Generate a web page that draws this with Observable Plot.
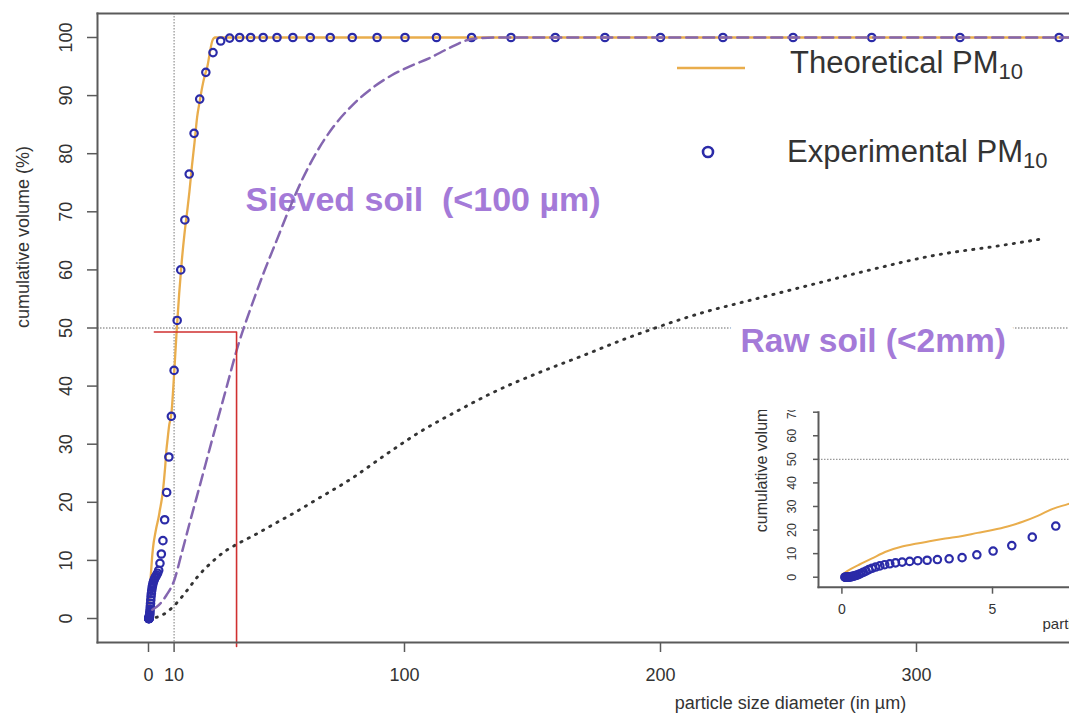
<!DOCTYPE html>
<html><head><meta charset="utf-8">
<script src="https://cdn.jsdelivr.net/npm/d3@7"></script>
<script src="https://cdn.jsdelivr.net/npm/@observablehq/plot@0.6"></script>
<style>
html,body{margin:0;padding:0;background:#fff;}
#wrap{position:relative;width:1069px;height:716px;overflow:hidden;font-family:"Liberation Sans",Arial,sans-serif;}
#wrap svg{display:block;}
#inset{position:absolute;left:748px;top:410px;width:321px;height:230px;overflow:hidden;background:#fff;}
#legend{position:absolute;left:0;top:0;}
text{white-space:pre;}
</style></head><body><div id="wrap"><div id="main"></div><div id="inset"></div></div>
<script>
// Experimental PM10 (blue circles): particle size (µm) and cumulative volume (%)
const expSize = [0.1,0.112,0.126,0.142,0.159,0.178,0.2,0.224,0.252,0.283,0.317,0.356,0.399,0.448,0.502,0.564,0.632,0.71,0.796,0.893,
  1.0,1.12,1.26,1.42,1.59,1.78,2.0,2.25,2.52,2.83,3.17,3.56,3.99,4.48,5.02,5.64,6.32,7.1,7.96,8.93,
  10.0,11.2,12.6,14.2,15.9,17.8,20.0,22.4,25.2,28.2,31.7,35.6,39.9,44.8,50.2,56.4,63.2,71.0,79.6,89.3,
  100.2,112.5,126.2,141.6,158.9,178.3,200.0,224.4,251.8,282.5,317.0,355.7];
const expVol = [0,0,0,0,0,0,0.02,0.05,0.1,0.15,0.25,0.35,0.5,0.7,0.9,1.2,1.6,2.1,2.6,3.2,
  3.8,4.3,4.8,5.3,5.7,6.1,6.4,6.7,7.0,7.2,7.5,7.8,8.3,9.5,11.1,13.4,17.0,21.7,27.8,34.8,
  42.7,51.3,60.0,68.6,76.5,83.5,89.4,94.0,97.4,99.4,99.9,100,100,100,100,100,100,100,100,100,
  100,100,100,100,100,100,100,100,100,100,100,100];
// Theoretical PM10 (orange line)
const theoSize = [0,0.3,0.6,1,1.5,2,2.5,3,3.5,4,4.5,5,5.5,6,6.5,7,7.5,8,9,10,11,12,13,14,15,16,17,18,19,20,21,22,23,24,25,26,360];
const theoVol = [1,3.5,5.5,8,11,13,14.3,15.5,16.5,17.5,18.8,20,21.5,23.5,26,29,31,33,35.5,42,49.5,56,61.5,66,69.7,73.5,78,82,86.3,89,91.5,93.5,95,97.5,99.5,100,100];
// Sieved soil (<100 µm) (purple dashed)
const sievedSize = [1.5,4,7,10,13,16,20,25,30,35,40,45,50,55,60,66,72,80,88,95,103,110,118,126,135,360];
const sievedVol = [1.5,2.3,4,6.5,11.3,16.3,22.8,31,39,47,53.5,59.5,65,70.5,75.5,80.5,84.5,88.5,91.5,93.5,95.2,96.5,98.3,99.7,100,100];
// Raw soil (<2mm) (black dotted)
const rawSize = [3,5,10,15,19,25,30,35,42,50,57,65,79,93,106,121,136,153,170,186,196,208,221,229,255,281,307,333,350];
const rawVol = [0.2,0.5,2.2,4.8,7.1,9.8,11.6,12.9,14.5,16.5,18.2,20.3,24,28.3,32.1,35.8,39.2,42.4,45.3,48.1,49.7,51.5,53.2,54.1,57.0,59.9,62.5,64.2,65.4];
// Red reading guide (D50)
const guideSize = [2.3,34.4,34.4];
const guideVol = [49.3,49.3,-4.8];
// Reference lines
const refSize = [10];
const refVol = [50];
// Ticks
const xTicks = [0,10,100,200,300];
const yTicks = [0,10,20,30,40,50,60,70,80,90,100];
const insetXTicks = [0,5];
const insetYTicks = [0,10,20,30,40,50,60,70];
// Annotations
const annoText = ["Sieved soil  (<100 µm)","Raw soil (<2mm)"];
const annoSize = [37.9,231.3];
const annoVol = [70.2,45.8];
// Legend
const legendLabels = ["Theoretical PM","Experimental PM"];
const legendSub = "10";

const zip = (xs, ys) => xs.map((x, i) => ({x, y: ys[i]}));
const exp = zip(expSize, expVol);
const theo = zip(theoSize, theoVol);
const sieved = zip(sievedSize, sievedVol);
const raw = zip(rawSize, rawVol);
const guide = zip(guideSize, guideVol);
const annos = annoText.map((t, i) => ({t, x: annoSize[i], y: annoVol[i]}));

const FONT = "Liberation Sans, Arial, sans-serif";
const refStyle = {stroke:"#9a9a9a", strokeWidth:1.3, strokeDasharray:"1.5,1.5"};
const orange = "#e9ad4c", blue = "#2b2ba8", purple = "#8466b0", lav = "#a47ad8", axisCol = "#5a5a5a";

const main = Plot.plot({
  width:1069, height:716, marginLeft:97, marginRight:0, marginTop:13, marginBottom:74,
  x:{domain:[-19.92, 359.77]}, y:{domain:[-4.13, 104.13]},
  style:{fontFamily:FONT, color:"#333", background:"transparent", overflow:"visible"},
  marks:[
    Plot.ruleX(refSize, refStyle),
    Plot.ruleY(refVol, refStyle),
    Plot.line(theo, {x:"x", y:"y", stroke:orange, strokeWidth:2.3, curve:"monotone-x"}),
    Plot.dot(exp, {x:"x", y:"y", r:3.7, stroke:blue, strokeWidth:2.2, fill:"none"}),
    Plot.text(annos.slice(0,1), {x:"x", y:"y", text:"t", textAnchor:"start", lineAnchor:"bottom", fontSize:34, fontWeight:"bold", fill:lav}),
    Plot.line(sieved, {x:"x", y:"y", stroke:purple, strokeWidth:2.5, strokeDasharray:"11,6", curve:"monotone-x"}),
    Plot.text(annos.slice(1), {x:"x", y:"y", text:"t", textAnchor:"start", lineAnchor:"bottom", fontSize:33.5, fontWeight:"bold", fill:lav, stroke:"white", strokeWidth:24, paintOrder:"stroke"}),
    Plot.line(raw, {x:"x", y:"y", stroke:"#333", strokeWidth:2.9, strokeDasharray:"1.2,7", strokeLinecap:"round", curve:"monotone-x"}),
    Plot.line(guide, {x:"x", y:"y", stroke:"#d03030", strokeWidth:1.6}),
    Plot.axisX({ticks:xTicks, tickSize:10, tickPadding:16, fontSize:18, label:null, stroke:axisCol, strokeWidth:1.5}),
    Plot.axisY({ticks:yTicks, tickSize:10, tickPadding:16, tickRotate:-90, fontSize:18, label:null, stroke:axisCol, strokeWidth:1.5}),
    Plot.frame({anchor:"top", stroke:axisCol, strokeWidth:2}),
    Plot.frame({anchor:"left", stroke:axisCol, strokeWidth:2}),
    Plot.frame({anchor:"bottom", stroke:axisCol, strokeWidth:2}),
    Plot.text(["cumulative volume (%)"], {frameAnchor:"left", dx:-74, rotate:-90, fontSize:18, fill:"#333"}),
    Plot.text(["particle size diameter (in µm)"], {frameAnchor:"bottom", dx:207, dy:66, fontSize:18, fill:"#333"})
  ]
});
document.getElementById("main").appendChild(main);

const inset = Plot.plot({
  width:321, height:230, marginLeft:70, marginRight:0, marginTop:1.7, marginBottom:53.3,
  x:{domain:[-0.777, 7.556]}, y:{domain:[-4.24, 70]},
  style:{fontFamily:FONT, color:"#333", background:"white"},
  marks:[
    Plot.ruleY(refVol, refStyle),
    Plot.line(theo, {x:"x", y:"y", stroke:orange, strokeWidth:2, curve:"monotone-x"}),
    Plot.dot(exp, {x:"x", y:"y", r:3.7, stroke:blue, strokeWidth:2.2, fill:"none"}),
    Plot.axisX({ticks:insetXTicks, tickSize:7, tickPadding:10, fontSize:14, label:null, stroke:axisCol, strokeWidth:1.5}),
    Plot.axisY({ticks:insetYTicks, tickSize:5, tickPadding:18, tickRotate:-90, fontSize:12.5, label:null, stroke:axisCol, strokeWidth:1.5}),
    Plot.frame({anchor:"left", stroke:axisCol, strokeWidth:2}),
    Plot.frame({anchor:"bottom", stroke:axisCol, strokeWidth:2}),
    Plot.text(["cumulative volume (%)"], {frameAnchor:"left", dx:-56.5, dy:32.5, rotate:-90, textAnchor:"start", fontSize:16, fill:"#333"}),
    Plot.text(["particle size diameter (in µm)"], {frameAnchor:"bottom-left", dx:224, dy:41.3, textAnchor:"start", fontSize:15, fill:"#333"})
  ]
});
document.getElementById("inset").appendChild(inset);

// Legend overlay
const lg = d3.select("#wrap").append("svg").attr("id","legend").attr("width",1069).attr("height",716)
  .style("position","absolute").style("left","0px").style("top","0px");
lg.append("line").attr("x1",677).attr("x2",745).attr("y1",68).attr("y2",68).attr("stroke",orange).attr("stroke-width",2.5);
lg.append("circle").attr("cx",708).attr("cy",152).attr("r",5).attr("fill","none").attr("stroke",blue).attr("stroke-width",2.6);
[[790,73],[787,162]].forEach(([x,y],i) => {
  const t = lg.append("text").attr("x",x).attr("y",y).attr("font-family",FONT).attr("font-size",31).attr("fill","#333").text(legendLabels[i]);
  t.append("tspan").attr("font-size",22).attr("dy",6).text(legendSub);
});
</script></body></html>
